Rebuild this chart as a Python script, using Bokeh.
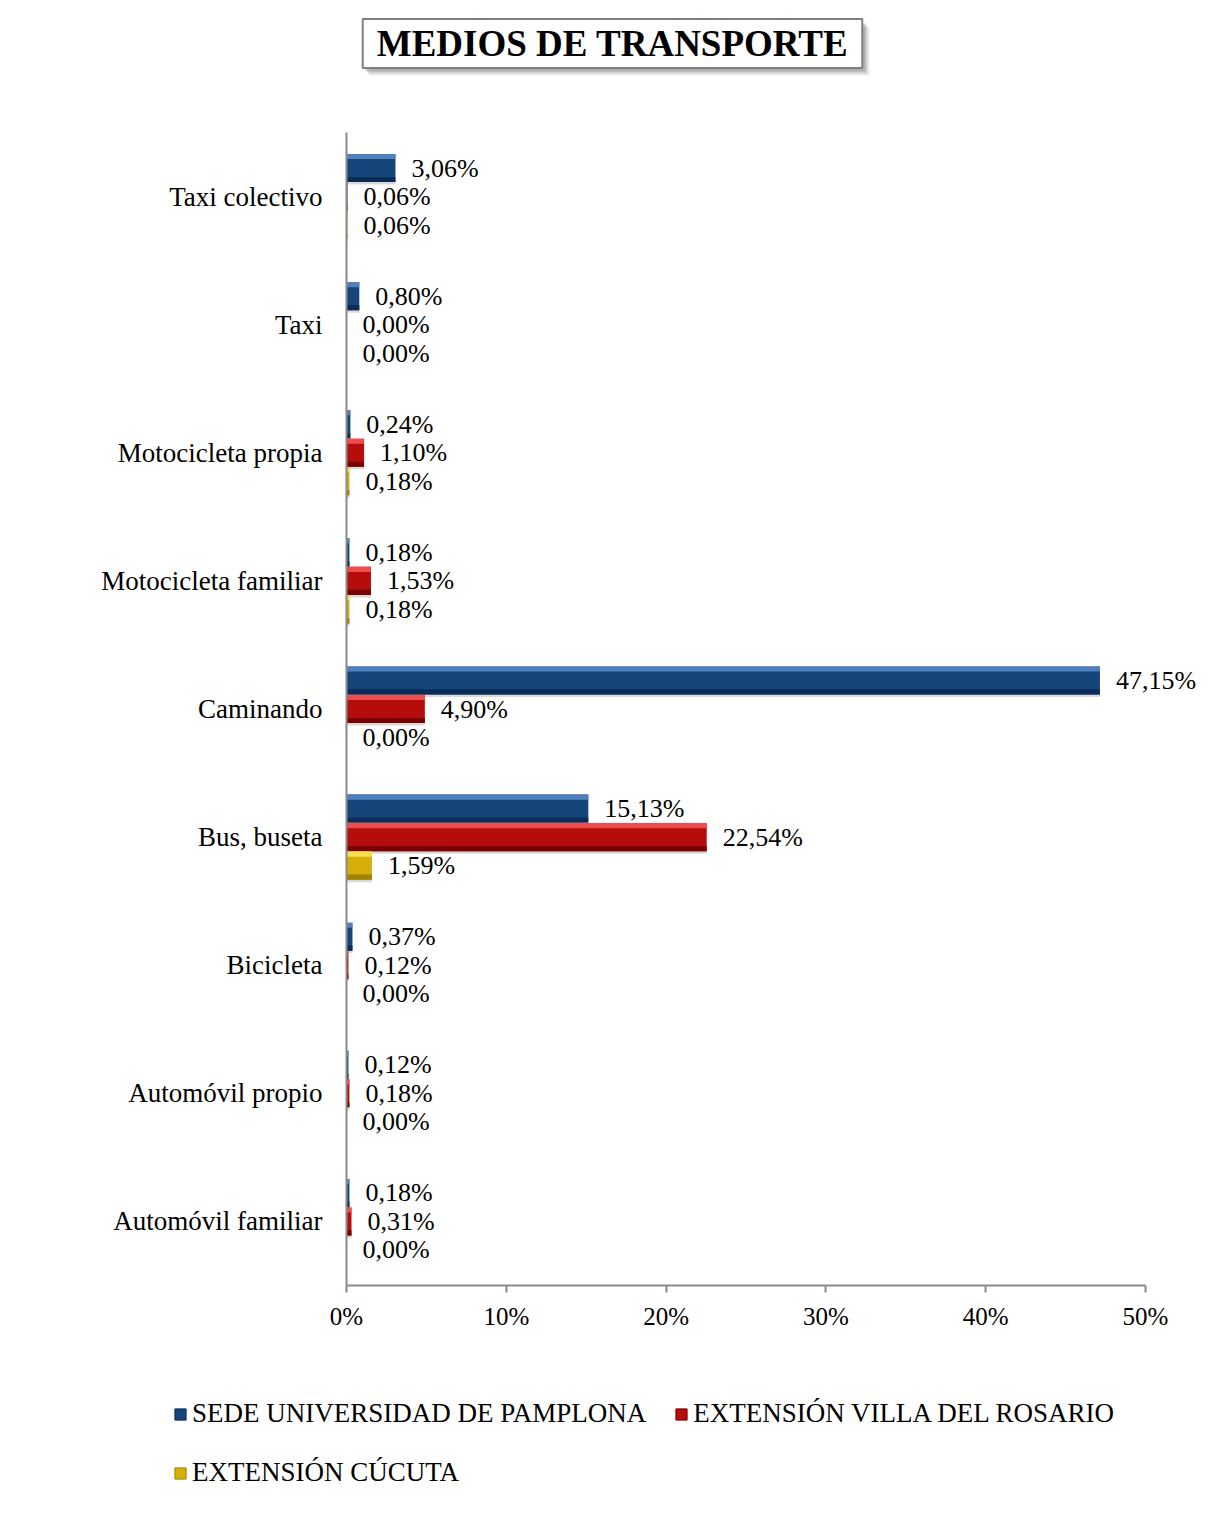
from bokeh.plotting import figure
from bokeh.models import Range1d, FixedTicker, PrintfTickFormatter, Label, Legend, LegendItem
from bokeh.core.properties import value
from bokeh.embed import file_html
from bokeh.resources import INLINE

# ---------------- data ----------------
categories = ["Automóvil familiar", "Automóvil propio", "Bicicleta", "Bus, buseta", "Caminando",
              "Motocicleta familiar", "Motocicleta propia", "Taxi", "Taxi colectivo"]
pamplona = [0.18, 0.12, 0.37, 15.13, 47.15, 0.18, 0.24, 0.80, 3.06]
villa_rosario = [0.31, 0.18, 0.12, 22.54, 4.90, 1.53, 1.10, 0.00, 0.06]
cucuta = [0.00, 0.00, 0.00, 1.59, 0.00, 0.18, 0.18, 0.00, 0.06]
series_names = ["SEDE UNIVERSIDAD DE PAMPLONA", "EXTENSIÓN VILLA DEL ROSARIO", "EXTENSIÓN CÚCUTA"]
x_ticks = [0, 10, 20, 30, 40, 50]
title_text = "MEDIOS DE TRANSPORTE"

# ---------------- style ----------------
FONT = "Liberation Serif"
W = 1214
TITLE_H = 112
MAIN_H = 1228
LEG_H = 180
FL, FT = 346, 20                 # main frame left/top (px inside main fig)
AX_END = 1145                     # x pixel of 50 %
FR = W - 4                        # frame extends right so labels are not clipped
FB = 1285 - TITLE_H               # frame bottom inside main fig
XMAX = 50
NCAT = len(categories)
AXIS_COLOR = "#8a8a8a"

body_colors = ["#16457c", "#b60c0c", "#d6ae08"]
top_colors = ["#4f80bb", "#ee4d4d", "#f7de55"]
bot_colors = ["#0a2d58", "#7a0000", "#a08000"]
offsets = [0.2227, 0.0, -0.2227]
BAR_H = 0.219


def bare(fig):
    fig.xgrid.visible = False
    fig.ygrid.visible = False
    fig.outline_line_color = None
    fig.background_fill_color = "white"
    fig.border_fill_color = "white"
    return fig


# ---------------- title figure ----------------
pt = bare(figure(width=W, height=TITLE_H, output_backend="svg", toolbar_location=None,
                 x_range=Range1d(0, W), y_range=Range1d(TITLE_H, 0),
                 x_axis_location=None, y_axis_location=None, min_border=0))
BOX_L, BOX_R, BOX_T, BOX_B = 362, 862, 20, 68
for d, a in [(7, 0.10), (5, 0.18), (3, 0.25)]:
    pt.quad(left=BOX_L + d, right=BOX_R + d, top=BOX_T + d, bottom=BOX_B + d,
            fill_color="#505050", fill_alpha=a, line_color=None)
pt.add_layout(Label(x=(BOX_L + BOX_R) / 2, y=(BOX_T + BOX_B) / 2 - 1, text=title_text,
                    text_font=FONT, text_font_style="bold",
                    text_font_size="37px", text_align="center", text_baseline="middle",
                    text_color="black", background_fill_color="white",
                    border_line_color="#7f7f7f", border_line_width=2,
                    padding=dict(left=14, right=14, top=4, bottom=4)))

# ---------------- main figure ----------------
x_end = XMAX * (FR - FL) / (AX_END - FL)
p = bare(figure(width=W, height=MAIN_H, output_backend="svg", toolbar_location=None,
                x_range=Range1d(0, x_end), y_range=Range1d(-0.5, NCAT - 0.5),
                min_border_left=FL, min_border_right=W - FR, min_border_top=FT,
                min_border_bottom=MAIN_H - FB))

xa = p.xaxis[0]
xa.bounds = (0, XMAX)
xa.ticker = FixedTicker(ticks=x_ticks)
xa.formatter = PrintfTickFormatter(format="%d%%")
xa.axis_line_color = AXIS_COLOR
xa.axis_line_width = 2
xa.major_tick_line_color = AXIS_COLOR
xa.major_tick_line_width = 2
xa.major_tick_in = 0
xa.major_tick_out = 7
xa.minor_tick_line_color = None
xa.major_label_text_font = FONT
xa.major_label_text_font_size = "25px"
xa.major_label_text_color = "black"
xa.major_label_standoff = 10

ya = p.yaxis[0]
ya.ticker = FixedTicker(ticks=list(range(NCAT)))
ya.major_label_overrides = {i: c for i, c in enumerate(categories)}
ya.axis_line_color = AXIS_COLOR
ya.axis_line_width = 2
ya.major_tick_line_color = None
ya.minor_tick_line_color = None
ya.major_label_text_font = FONT
ya.major_label_text_font_size = "27px"
ya.major_label_text_color = "black"
ya.major_label_standoff = 18

series = [pamplona, villa_rosario, cucuta]
for k, vals in enumerate(series):
    ys = [i + offsets[k] for i in range(NCAT)]
    p.hbar(y=[y - 0.02 for y in ys], left=0, right=vals, height=BAR_H,
           fill_color="black", fill_alpha=0.15, line_color=None)
    p.hbar(y=ys, left=0, right=vals, height=BAR_H, fill_color=body_colors[k], line_color=None)
    p.hbar(y=[y + BAR_H / 2 - 0.02 for y in ys], left=0, right=vals, height=0.04,
           fill_color=top_colors[k], line_color=None)
    p.hbar(y=[y - BAR_H / 2 + 0.02 for y in ys], left=0, right=vals, height=0.04,
           fill_color=bot_colors[k], line_color=None)
    labels = [f"{v:.2f}".replace(".", ",") + "%" for v in vals]
    p.text(x=vals, y=ys, text=labels, x_offset=16, text_align="left", text_baseline="middle",
           text_font=value(FONT), text_font_size=value("26px"), text_color="black")

# ---------------- legend figure ----------------
pl = bare(figure(width=W, height=LEG_H, output_backend="svg", toolbar_location=None,
                 x_range=Range1d(0, 1), y_range=Range1d(0, 1),
                 x_axis_location=None, y_axis_location=None, min_border=0))
items = []
for k, name in enumerate(series_names):
    # off-canvas swatch renderer used only for the legend glyph
    r = pl.hbar(y=[-5], right=[1], height=0.1, fill_color=body_colors[k], line_color=bot_colors[k])
    items.append(LegendItem(label=name, renderers=[r]))
legend = Legend(items=items, location=(173, 32),
                orientation="horizontal", ncols=2,
                glyph_width=14, glyph_height=14, label_height=31, label_standoff=5, spacing=28,
                padding=0, margin=0, border_line_color=None, background_fill_alpha=0,
                label_text_font=FONT, label_text_font_size="27px", label_text_color="black")
pl.add_layout(legend)

open("out.html", "w").write(file_html([pt, p, pl], INLINE))
